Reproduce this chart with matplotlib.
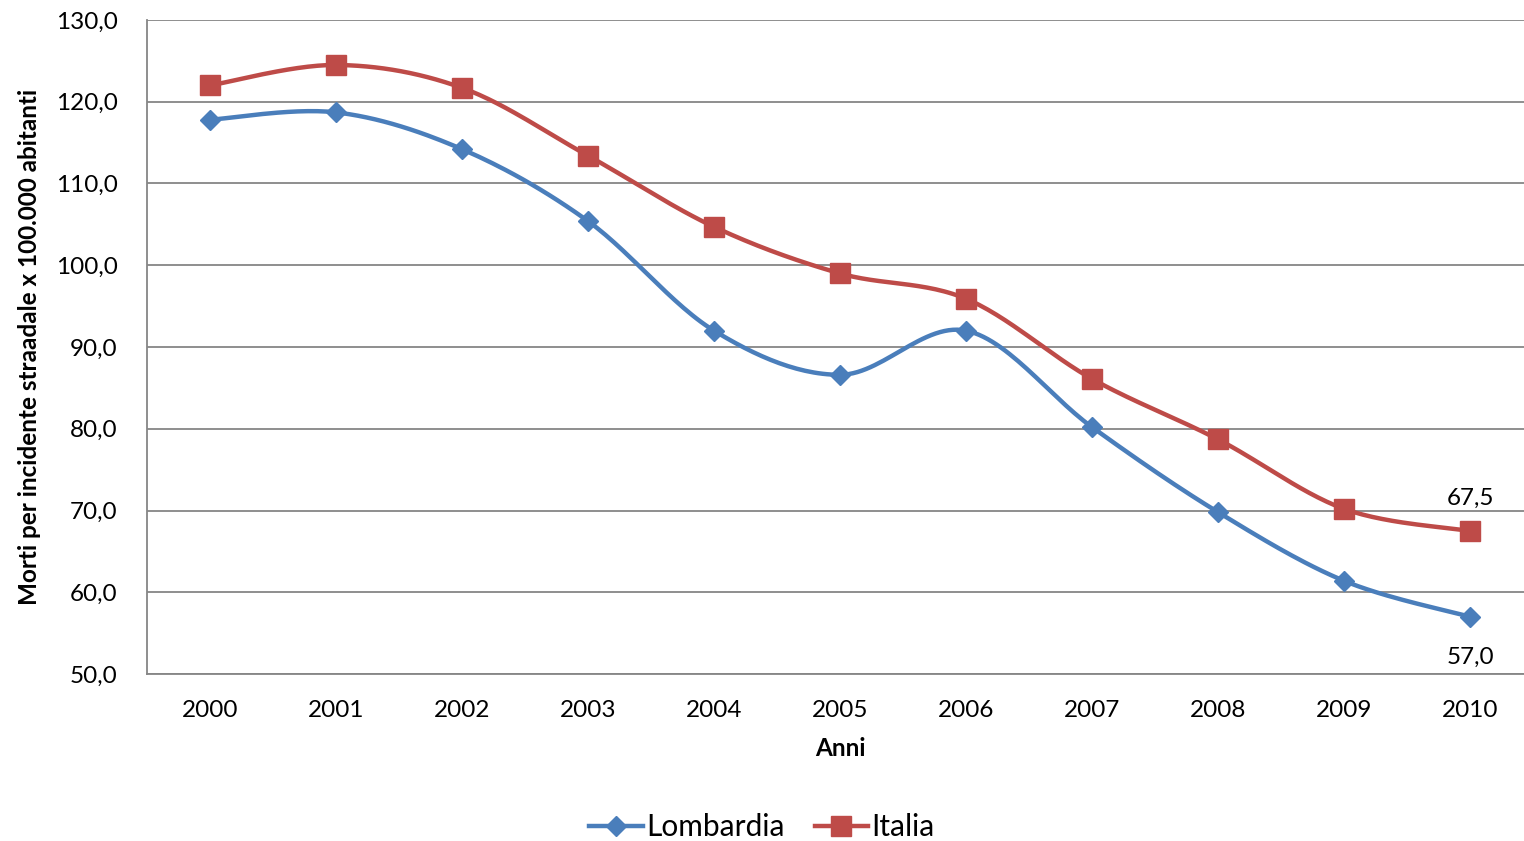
import matplotlib.pyplot as plt
import numpy as np

years = ["2000", "2001", "2002", "2003", "2004", "2005", "2006", "2007", "2008", "2009", "2010"]
lombardia = [117.8, 118.7, 114.2, 105.4, 92.0, 86.6, 92.0, 80.2, 69.8, 61.4, 57.0]
italia = [122.0, 124.5, 121.7, 113.4, 104.7, 99.0, 95.9, 86.1, 78.7, 70.2, 67.5]

BLUE = "#4A7EBB"
RED = "#BE4B48"


def smooth(x, y, n=30):
    # excel-like bezier smoothing through the points
    x = np.asarray(x, dtype=float)
    y = np.asarray(y, dtype=float)
    px = np.concatenate([[x[0]], x, [x[-1]]])
    py = np.concatenate([[y[0]], y, [y[-1]]])
    xs, ys = [], []
    t = np.linspace(0, 1, n)
    for i in range(len(x) - 1):
        p0 = np.array([px[i + 1], py[i + 1]])
        p3 = np.array([px[i + 2], py[i + 2]])
        c1 = p0 + (np.array([px[i + 2], py[i + 2]]) - np.array([px[i], py[i]])) / 6
        c2 = p3 - (np.array([px[i + 3], py[i + 3]]) - np.array([px[i + 1], py[i + 1]])) / 6
        b = ((1 - t) ** 3)[:, None] * p0 + (3 * (1 - t) ** 2 * t)[:, None] * c1 \
            + (3 * (1 - t) * t ** 2)[:, None] * c2 + (t ** 3)[:, None] * p3
        xs.extend(b[:, 0])
        ys.extend(b[:, 1])
    return np.array(xs), np.array(ys)


def main():
    plt.rcParams["font.family"] = ["Lato", "DejaVu Sans"]

    fig = plt.figure(figsize=(15.24, 8.41), dpi=100)
    ax = fig.add_axes([147 / 1524, 1 - 674 / 841, 1386 / 1524, 654 / 841])

    xi = np.arange(len(years))
    for vals, col, mk, ms, name in [
        (lombardia, BLUE, "D", 10, "Lombardia"),
        (italia, RED, "s", 14, "Italia"),
    ]:
        sx, sy = smooth(xi, vals)
        ax.plot(sx, sy, color=col, lw=3.2, solid_capstyle="round", zorder=3)
        ax.plot(xi, vals, ls="none", marker=mk, ms=ms, color=col, zorder=4)
        ax.plot([], [], color=col, lw=3.2, marker=mk, ms=ms, label=name)

    ax.annotate("67,5", (xi[-1], italia[-1]), xytext=(0, 16), textcoords="offset points",
                ha="center", va="bottom", fontsize=17.5)
    ax.annotate("57,0", (xi[-1], lombardia[-1]), xytext=(0, -22), textcoords="offset points",
                ha="center", va="top", fontsize=17.5)

    ax.set_xlim(-0.5, len(years) - 0.5)
    ax.set_ylim(50, 130)
    ax.set_yticks(np.arange(50, 131, 10))
    ax.set_yticklabels([f"{v:.1f}".replace(".", ",") for v in np.arange(50, 131, 10)])
    ax.set_xticks(xi)
    ax.set_xticklabels(years)
    ax.tick_params(axis="both", labelsize=17.5, colors="#868686", labelcolor="black")
    ax.tick_params(axis="x", length=0, pad=18.5)
    ax.tick_params(axis="y", length=0, pad=21)

    ax.grid(axis="y", color="#868686", lw=1.3)
    ax.set_axisbelow(True)
    for s in ["top", "right"]:
        ax.spines[s].set_visible(False)
    ax.spines["left"].set_color("#868686")
    ax.spines["bottom"].set_color("#868686")
    ax.spines["left"].set_linewidth(1.3)
    ax.spines["bottom"].set_linewidth(1.3)

    ax.set_xlabel("Anni", fontsize=17.5, fontweight="bold", labelpad=12)
    ax.set_ylabel("Morti per incidente straadale x 100.000 abitanti", fontsize=17.5,
                  fontweight="bold", labelpad=11)

    fig.legend(loc="center", bbox_to_anchor=(0.5, 1 - 827 / 841), ncol=2, frameon=False,
               fontsize=21.5, handlelength=1.8, handletextpad=0.1, columnspacing=1.0)

    fig.savefig("out.png", dpi=100)


if __name__ == "__main__":
    main()
